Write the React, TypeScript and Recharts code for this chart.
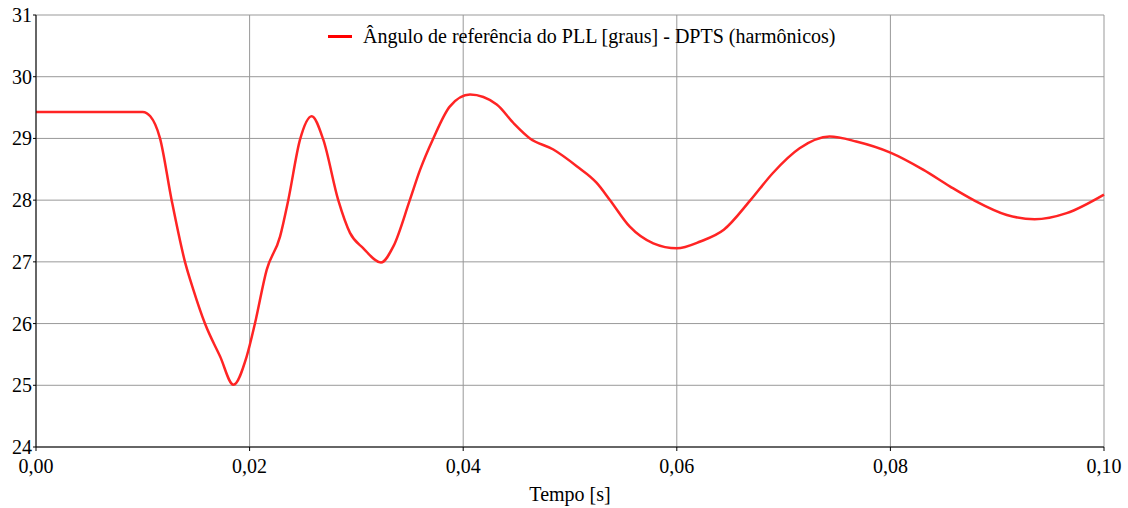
import React from 'react';
import { LineChart, Line, XAxis, YAxis, CartesianGrid, Legend } from 'recharts';

// tempo [s]
const tempo = [
  0, 0.01, 0.0107, 0.0116, 0.0127, 0.01395, 0.01473, 0.01582, 0.01723, 0.01848,
  0.01973, 0.0205, 0.0216, 0.02285, 0.02362, 0.02472, 0.02581, 0.0269, 0.0283, 0.0294,
  0.03065, 0.0323, 0.03346, 0.035, 0.03596, 0.0372, 0.03876, 0.04064, 0.04314, 0.0447,
  0.04625, 0.04844, 0.05063, 0.0525, 0.05375, 0.0556, 0.0578, 0.06, 0.0622, 0.0644,
  0.0669, 0.069, 0.0715, 0.0743, 0.0768, 0.08, 0.0831, 0.0856, 0.0878, 0.0909,
  0.0935, 0.0965, 0.1,
];

// ângulo [graus]
const angulo = [
  29.43, 29.43, 29.36, 29.01, 28.0, 27.0, 26.55, 26.0, 25.47, 25.01,
  25.47, 26.0, 26.87, 27.41, 28.0, 28.98, 29.36, 28.98, 28.0, 27.47,
  27.22, 26.99, 27.25, 28.0, 28.49, 29.0, 29.52, 29.71, 29.55, 29.25,
  29.0, 28.82, 28.55, 28.28, 28.0, 27.57, 27.3, 27.22, 27.33, 27.52,
  28.0, 28.44, 28.84, 29.03, 28.95, 28.77, 28.49, 28.22, 28.0, 27.76,
  27.69, 27.79, 28.09,
];

const xTicks = [0, 0.02, 0.04, 0.06, 0.08, 0.1];
const yTicks = [24, 25, 26, 27, 28, 29, 30, 31];

const seriesName = 'Ângulo de referência do PLL [graus] - DPTS (harmônicos)';

const data = tempo.map((t, i) => ({ t, v: angulo[i] }));

const font = '"Liberation Serif", "Times New Roman", serif';

const fmtX = (v: number) => v.toFixed(2).replace('.', ',');

// custom ticks so the serif font is actually applied
const XTick = (props: any) => {
  const { x, y, payload } = props;
  return (
    <text x={x} y={y + 20} textAnchor="middle" fontFamily={font} fontSize={20} fill="#000">
      {fmtX(payload.value)}
    </text>
  );
};

const YTick = (props: any) => {
  const { x, y, payload } = props;
  return (
    <text x={x} y={y + 7} textAnchor="end" fontFamily={font} fontSize={20} fill="#000">
      {payload.value}
    </text>
  );
};

const LegendBox = () => (
  <div style={{ display: 'flex', alignItems: 'center', fontFamily: font, fontSize: 20, color: '#000', whiteSpace: 'nowrap' }}>
    <span style={{ display: 'inline-block', width: 24, height: 3, background: '#ff0000', marginRight: 11 }} />
    <span>{seriesName}</span>
  </div>
);

const App: React.FC = () => {
  return (
    <div style={{ position: 'absolute', left: 0, top: 0, background: '#fff', fontFamily: font }}>
      <LineChart
        width={1128}
        height={508}
        data={data}
        margin={{ top: 15, right: 24, left: 6, bottom: 7 }}
      >
        <CartesianGrid stroke="#999" strokeWidth={1} />
        <XAxis
          dataKey="t"
          type="number"
          domain={[0, 0.1]}
          ticks={xTicks}
          stroke="#000"
          tick={<XTick />}
          tickSize={4}
          tickMargin={2}
          height={54}
          label={{ value: 'Tempo [s]', position: 'insideBottom', offset: 0, fill: '#000', fontSize: 20, fontFamily: font }}
        />
        <YAxis
          type="number"
          domain={[24, 31]}
          ticks={yTicks}
          stroke="#000"
          width={30}
          tick={<YTick />}
          tickSize={3}
          tickMargin={1}
          allowDataOverflow
        />
        <Legend
          layout="horizontal"
          verticalAlign="middle"
          align="center"
          content={() => <LegendBox />}
          wrapperStyle={{ left: 328, top: 25, width: 'auto' }}
        />
        <Line
          type="monotone"
          dataKey="v"
          name={seriesName}
          stroke="#ff2424"
          strokeWidth={2.5}
          dot={false}
          isAnimationActive={false}
        />
      </LineChart>
    </div>
  );
};

export default App;
